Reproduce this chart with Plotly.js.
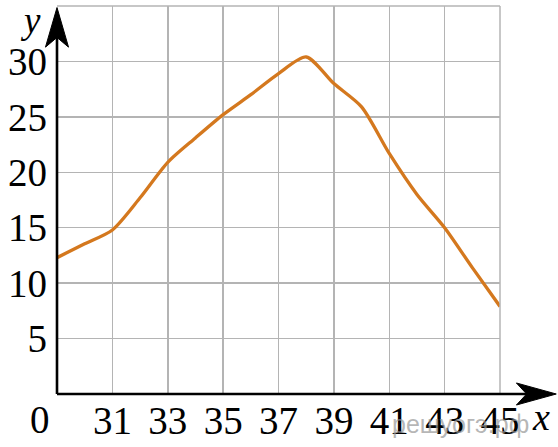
<!DOCTYPE html>
<html>
<head>
<meta charset="utf-8">
<script src="https://cdn.plot.ly/plotly-3.0.1.min.js"></script>
<style>
  html, body { margin: 0; padding: 0; background: #fff; }
  #chart { width: 558px; height: 447px; }
</style>
</head>
<body>
<div id="chart"></div>
<script>
// Data
const xValues = [29, 30, 31, 32, 33, 34, 35, 36, 37, 38, 39, 40, 41, 42, 43, 44, 45];
const yValues = [12.3, 13.55, 14.8, 17.7, 20.9, 23.1, 25.2, 27.0, 28.9, 30.4, 28.0, 25.9, 21.7, 18.0, 15.0, 11.4, 7.9];

const xTickVals = [29, 31, 33, 35, 37, 39, 41, 43, 45];
const xTickText = ["", "31", "33", "35", "37", "39", "41", "43", "45"];
const yTickVals = [0, 5, 10, 15, 20, 25, 30, 35];
const yTickText = ["", "5", "10", "15", "20", "25", "30", ""];
const xRange = [29, 45];
const yRange = [0, 35];
const originLabel = "0";
const watermark = "решуогэ.рф";

const serif = "Liberation Serif, Times New Roman, serif";
const gridColor = "#b4b4b4";
const curveColor = "#d4781e";

const trace = {
  x: xValues,
  y: yValues,
  type: "scatter",
  mode: "lines",
  line: { color: curveColor, width: 3.3, shape: "spline", smoothing: 0.75 },
  hoverinfo: "skip",
  cliponaxis: false
};

const layout = {
  width: 558,
  height: 447,
  margin: { l: 57, r: 58, t: 6, b: 53, pad: 0 },
  paper_bgcolor: "#ffffff",
  plot_bgcolor: "#ffffff",
  showlegend: false,
  xaxis: {
    range: xRange,
    tickmode: "array",
    tickvals: xTickVals,
    ticktext: xTickText,
    showgrid: true,
    gridcolor: gridColor,
    gridwidth: 1.5,
    zeroline: false,
    showline: false,
    ticks: "",
    tickfont: { family: serif, size: 39, color: "#000" },
    fixedrange: true
  },
  yaxis: {
    range: yRange,
    tickmode: "array",
    tickvals: yTickVals,
    ticktext: yTickText,
    showgrid: true,
    gridcolor: gridColor,
    gridwidth: 1.5,
    zeroline: false,
    showline: false,
    ticks: "",
    ticklabelstandoff: 9,
    tickfont: { family: serif, size: 39, color: "#000" },
    fixedrange: true
  },
  shapes: [
    // top and right grid borders
    { type: "line", xref: "paper", yref: "paper", x0: 0, x1: 1, y0: 1, y1: 1, line: { color: gridColor, width: 1.5 } },
    { type: "line", xref: "paper", yref: "paper", x0: 1, x1: 1, y0: 0, y1: 1, line: { color: gridColor, width: 1.5 } },
    // y axis line
    { type: "line", xref: "paper", yref: "paper", x0: 0, x1: 0, y0: 0, y1: 0.93, line: { color: "#000", width: 2.6 } },
    // x axis line
    { type: "line", xref: "paper", yref: "paper", x0: 0, x1: 1.08, y0: 0, y1: 0, line: { color: "#000", width: 2.6 } },
    // y arrowhead
    { type: "path", xref: "paper", yref: "paper",
      path: "M 0 0.996 L 0.026 0.894 L 0 0.919 L -0.026 0.894 Z",
      fillcolor: "#000", line: { color: "#000", width: 1 } },
    // x arrowhead
    { type: "path", xref: "paper", yref: "paper",
      path: "M 1.127 0 L 1.037 0.0284 L 1.060 0 L 1.037 -0.0284 Z",
      fillcolor: "#000", line: { color: "#000", width: 1 } }
  ],
  annotations: [
    { text: "y", xref: "paper", yref: "paper", x: -0.06, y: 0.962, xanchor: "center", yanchor: "middle",
      showarrow: false, font: { family: serif, size: 37, color: "#000", style: "italic" } },
    { text: "x", xref: "paper", yref: "paper", x: 1.092, y: -0.06, xanchor: "center", yanchor: "middle",
      showarrow: false, font: { family: serif, size: 38, color: "#000", style: "italic" } },
    { text: originLabel, xref: "paper", yref: "paper", x: -0.039, y: -0.065, xanchor: "center", yanchor: "middle",
      showarrow: false, font: { family: serif, size: 39, color: "#000" } },
    { text: watermark, xref: "paper", yref: "paper", x: 0.91, y: -0.077, xanchor: "center", yanchor: "middle",
      showarrow: false, font: { family: "Liberation Sans, Arial, sans-serif", size: 25, color: "rgba(150,150,150,0.7)" } }
  ]
};

Plotly.newPlot("chart", [trace], layout, { displayModeBar: false, staticPlot: true });
</script>
</body>
</html>
